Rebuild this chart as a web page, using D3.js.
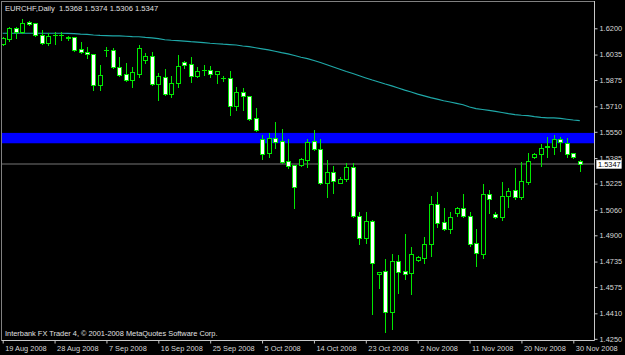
<!DOCTYPE html>
<html>
<head>
<meta charset="utf-8">
<script src="https://cdn.jsdelivr.net/npm/d3@7"></script>
<style>
  body { margin: 0; background: #000; }
  svg { display: block; }
  text { font-family: "Liberation Sans", Arial, sans-serif; }
</style>
</head>
<body>
<div id="chart"></div>
<script>
// EURCHF daily candles, 19 Aug 2008 .. 1 Dec 2008 (one bar per trading day, Sundays included)
const opens = [1.6101,1.6131,1.6200,1.6179,1.6240,1.6231,1.6158,1.6106,1.6156,1.6156,
  1.6145,1.6147,1.6068,1.6053,1.6039,1.5844,1.6062,1.6064,1.5959,1.5911,
  1.5875,1.5913,1.6001,1.6026,1.5850,1.5892,1.5786,1.5855,1.5990,1.5974,
  1.5902,1.5936,1.5938,1.5911,1.5886,1.5886,1.5714,1.5802,1.5775,1.5639,
  1.5503,1.5415,1.5513,1.5492,1.5367,1.5342,1.5342,1.5373,1.5492,1.5440,
  1.5227,1.5299,1.5230,1.5252,1.5331,1.5021,1.4881,1.4990,1.4655,1.4678,
  1.4416,1.4739,1.4676,1.4661,1.4745,1.4756,1.4844,1.5095,1.4982,1.4940,
  1.5038,1.5070,1.5021,1.4850,1.4783,1.5159,1.5032,1.5017,1.5149,1.5185,
  1.5142,1.5237,1.5390,1.5409,1.5455,1.5456,1.5505,1.5478,1.5415,1.5368];
const highs = [1.6145,1.6210,1.6210,1.6258,1.6244,1.6233,1.6189,1.6172,1.6179,1.6179,
  1.6152,1.6148,1.6116,1.6084,1.6040,1.5970,1.6084,1.6074,1.6022,1.5980,
  1.5955,1.6095,1.6043,1.6053,1.5922,1.5944,1.5900,1.6032,1.5997,1.6022,
  1.5959,1.5970,1.5965,1.5932,1.5900,1.5932,1.5833,1.5827,1.5777,1.5698,
  1.5530,1.5544,1.5613,1.5568,1.5503,1.5343,1.5384,1.5503,1.5561,1.5503,
  1.5373,1.5337,1.5264,1.5352,1.5352,1.5044,1.5044,1.4996,1.4670,1.4749,
  1.4783,1.4776,1.4908,1.4828,1.4772,1.4887,1.5147,1.5170,1.5070,1.5044,
  1.5080,1.5159,1.5044,1.4940,1.5222,1.5185,1.5048,1.5233,1.5195,1.5321,
  1.5362,1.5415,1.5419,1.5473,1.5519,1.5530,1.5515,1.5509,1.5417,1.5374];
const lows = [1.6095,1.6122,1.6141,1.6169,1.6223,1.6152,1.6100,1.6095,1.6100,1.6126,
  1.6126,1.6057,1.6043,1.6012,1.5813,1.5813,1.6026,1.5949,1.5900,1.5871,
  1.5833,1.5896,1.5984,1.5844,1.5747,1.5781,1.5770,1.5833,1.5949,1.5865,
  1.5892,1.5907,1.5896,1.5855,1.5871,1.5656,1.5687,1.5687,1.5624,1.5557,
  1.5377,1.5390,1.5446,1.5352,1.5321,1.5070,1.5337,1.5331,1.5436,1.5220,
  1.5139,1.5168,1.5227,1.5241,1.5017,1.4844,1.4850,1.4404,1.4571,1.4295,
  1.4312,1.4536,1.4626,1.4531,1.4739,1.4728,1.4770,1.4954,1.4933,1.4916,
  1.5021,1.5013,1.4835,1.4709,1.4756,1.5038,1.5007,1.4996,1.5080,1.5128,
  1.5126,1.5220,1.5384,1.5337,1.5394,1.5409,1.5431,1.5394,1.5387,1.5306];
const closes = [1.6139,1.6200,1.6179,1.6235,1.6227,1.6158,1.6110,1.6154,1.6158,1.6158,
  1.6142,1.6064,1.6049,1.6037,1.5844,1.5907,1.6066,1.5959,1.5907,1.5875,
  1.5927,1.6078,1.6026,1.5850,1.5900,1.5786,1.5858,1.5963,1.5968,1.5902,
  1.5934,1.5938,1.5913,1.5932,1.5888,1.5714,1.5802,1.5775,1.5630,1.5561,
  1.5409,1.5509,1.5484,1.5362,1.5337,1.5205,1.5377,1.5488,1.5440,1.5227,
  1.5299,1.5241,1.5254,1.5331,1.5021,1.4885,1.4990,1.4724,1.4668,1.4416,
  1.4739,1.4668,1.4655,1.4781,1.4766,1.4845,1.5095,1.4975,1.4940,1.5013,
  1.5070,1.5021,1.4845,1.4787,1.5159,1.5126,1.5013,1.5149,1.5180,1.5142,
  1.5241,1.5367,1.5411,1.5450,1.5458,1.5505,1.5484,1.5409,1.5390,1.5347];

// long moving average
const maValues = [1.6169,1.6169,1.6169,1.6169,1.6169,1.6169,1.6169,1.6169,1.6169,1.6169,
  1.6168,1.6167,1.6163,1.6162,1.6158,1.6155,1.6154,1.6153,1.6152,1.6150,
  1.6148,1.6147,1.6143,1.6140,1.6135,1.6128,1.6125,1.6123,1.6120,1.6116,
  1.6113,1.6110,1.6106,1.6103,1.6100,1.6098,1.6095,1.6089,1.6085,1.6078,
  1.6071,1.6064,1.6056,1.6047,1.6039,1.6029,1.6018,1.6010,1.5998,1.5985,
  1.5971,1.5957,1.5943,1.5929,1.5916,1.5902,1.5888,1.5875,1.5863,1.5850,
  1.5838,1.5825,1.5812,1.5800,1.5787,1.5776,1.5765,1.5755,1.5745,1.5737,
  1.5729,1.5720,1.5706,1.5696,1.5690,1.5684,1.5678,1.5671,1.5664,1.5658,
  1.5654,1.5651,1.5645,1.5641,1.5638,1.5637,1.5634,1.5629,1.5624,1.5620];

// resistance zone (blue rectangle object)
const zoneTop = 1.5543;
const zoneBottom = 1.5478;

const dateTickBars = [0, 8, 16, 24, 32, 40, 48, 56, 64, 72, 80, 88];
const dateTickLabels = ['19 Aug 2008', '28 Aug 2008', '7 Sep 2008', '16 Sep 2008', '25 Sep 2008',
  '5 Oct 2008', '14 Oct 2008', '23 Oct 2008', '2 Nov 2008', '11 Nov 2008', '20 Nov 2008', '30 Nov 2008'];
const priceTicks = [1.6200, 1.6035, 1.5875, 1.5710, 1.5550, 1.5385, 1.5225,
  1.5060, 1.4900, 1.4735, 1.4575, 1.4410, 1.4250];

const W = 625, H = 355;
const frame = { left: 2, right: 594.5, top: 1.5, bottom: 340.5 };
const fmt = d3.format('.4f');

const svg = d3.select('#chart').append('svg').attr('width', W).attr('height', H);
svg.append('rect').attr('width', W).attr('height', H).attr('fill', '#000');

const x = d3.scaleLinear().domain([0, 88]).range([2.7, 573.3]);
const y = d3.scaleLinear().domain([1.4250, 1.6200]).range([338.8, 28.3]);

// blue zone behind everything
svg.append('rect')
  .attr('x', frame.left).attr('width', frame.right - frame.left)
  .attr('y', y(zoneTop)).attr('height', y(zoneBottom) - y(zoneTop))
  .attr('fill', '#0000ff');

// bid line
const lastClose = closes[closes.length - 1];
svg.append('line')
  .attr('x1', frame.left).attr('x2', frame.right)
  .attr('y1', y(lastClose)).attr('y2', y(lastClose))
  .attr('stroke', '#4f4f4f').attr('stroke-width', 1.5);

// moving average
const maLine = d3.line().x((d, i) => x(i)).y(d => y(d));
svg.append('path')
  .datum(maValues)
  .attr('fill', 'none')
  .attr('stroke', '#1fa8a8')
  .attr('stroke-width', 1.2)
  .attr('d', maLine);

// candles
const bars = opens.map((o, i) => ({ i, o, h: highs[i], l: lows[i], c: closes[i] }));
const candle = svg.append('g').attr('shape-rendering', 'crispEdges');
const green = '#00e800';

bars.forEach(d => {
  const cx = Math.round(x(d.i));
  const g = candle.append('g');
  g.append('line')
    .attr('x1', cx + 0.5).attr('x2', cx + 0.5)
    .attr('y1', Math.round(y(d.h))).attr('y2', Math.round(y(d.l)) + 1)
    .attr('stroke', green);
  const top = Math.round(y(Math.max(d.o, d.c))) + 0.5;
  const bot = Math.round(y(Math.min(d.o, d.c))) + 0.5;
  if (bot - top < 1) {
    g.append('line')
      .attr('x1', cx - 2).attr('x2', cx + 3)
      .attr('y1', top).attr('y2', top)
      .attr('stroke', green);
  } else {
    g.append('rect')
      .attr('x', cx - 1.5).attr('width', 4)
      .attr('y', top).attr('height', bot - top)
      .attr('fill', d.c < d.o ? '#ffffff' : '#000000')
      .attr('stroke', green);
  }
});

// frame lines
svg.append('line').attr('x1', 1.5).attr('x2', 1.5).attr('y1', 1).attr('y2', frame.bottom)
  .attr('stroke', '#808080');
svg.append('line').attr('x1', 1.5).attr('x2', frame.right).attr('y1', frame.top).attr('y2', frame.top)
  .attr('stroke', '#808080');
svg.append('line').attr('x1', frame.right).attr('x2', frame.right).attr('y1', 1).attr('y2', frame.bottom)
  .attr('stroke', '#c8c8c8');
svg.append('line').attr('x1', 1.5).attr('x2', frame.right).attr('y1', frame.bottom).attr('y2', frame.bottom)
  .attr('stroke', '#c8c8c8');

// price axis
const yAxis = svg.append('g')
  .attr('transform', `translate(${frame.right},0)`)
  .call(d3.axisRight(y).tickValues(priceTicks).tickSize(3).tickPadding(2).tickFormat(fmt));
yAxis.select('.domain').remove();
yAxis.selectAll('line').attr('stroke', '#c8c8c8');
yAxis.selectAll('text').attr('fill', '#d8d8d8').style('font-size', '7.4px');

// date axis
const xAxis = svg.append('g')
  .attr('transform', `translate(0,${frame.bottom})`)
  .call(d3.axisBottom(x).tickValues(dateTickBars).tickSize(3)
    .tickFormat((d, i) => dateTickLabels[i]));
xAxis.select('.domain').remove();
xAxis.selectAll('line').attr('stroke', '#c8c8c8');
xAxis.selectAll('text')
  .attr('fill', '#d8d8d8')
  .attr('text-anchor', 'start')
  .attr('x', 2).attr('y', 5).attr('dy', '0.71em')
  .style('font-size', '7.4px');

// current price label
const bidY = y(lastClose);
svg.append('rect').attr('x', 596.5).attr('y', bidY - 4).attr('width', 25).attr('height', 8.5)
  .attr('fill', '#ffffff').attr('stroke', '#c8c8c8').attr('stroke-width', 0.5);
svg.append('text').attr('x', 598).attr('y', bidY + 2.8)
  .attr('fill', '#000').style('font-size', '7.4px').text(fmt(lastClose));

// header and footer texts
svg.append('text').attr('x', 5).attr('y', 10.5)
  .attr('fill', '#e0e0e0').style('font-size', '7.6px').style('white-space', 'pre')
  .text(`EURCHF,Daily  ${fmt(opens[89])} ${fmt(highs[89])} ${fmt(lows[89])} ${fmt(closes[89])}`);
svg.append('text').attr('x', 5).attr('y', 336)
  .attr('fill', '#e0e0e0').style('font-size', '7.4px')
  .text('Interbank FX Trader 4, \u00a9 2001-2008 MetaQuotes Software Corp.');
</script>
</body>
</html>
